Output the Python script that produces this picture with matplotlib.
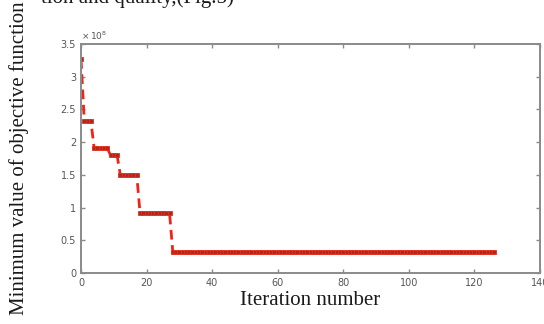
import matplotlib
matplotlib.use("Agg")
import matplotlib.pyplot as plt
from matplotlib.ticker import FuncFormatter

# step levels of the best objective value and the iteration where each starts
level_values = [3.27e8, 2.33e8, 1.91e8, 1.80e8, 1.50e8, 0.92e8, 0.32e8]
level_starts = [0, 1, 4, 9, 12, 18, 28]
last_iteration = 126

x_ticks = [0, 20, 40, 60, 80, 100, 120, 140]
y_ticks = [0, 0.5e8, 1e8, 1.5e8, 2e8, 2.5e8, 3e8, 3.5e8]

# expand the levels to one value per iteration
iters = list(range(0, last_iteration + 1))
best = []
for it in iters:
    k = max(i for i, s in enumerate(level_starts) if s <= it)
    best.append(level_values[k])

fig = plt.figure(figsize=(5.44, 3.24), dpi=100)
ax = fig.add_axes([81 / 544, 1 - 273 / 324, 459 / 544, 229 / 324])

ax.plot(iters, best, color="#ee2418", linestyle="--", dashes=(3.5, 2), linewidth=2.0,
        marker="s", markersize=3.2, markerfacecolor="#b3261c", markeredgecolor="#e3301f",
        markeredgewidth=0.6)

ax.set_xlim(0, 140)
ax.set_ylim(0, 3.5e8)
ax.set_xticks(x_ticks)
ax.set_yticks(y_ticks)
ax.yaxis.set_major_formatter(FuncFormatter(lambda v, p: "%g" % (v / 1e8)))

for s in ax.spines.values():
    s.set_color("#8a8a8a")
    s.set_linewidth(1.4)
ax.tick_params(direction="in", length=3, width=1, colors="#8a8a8a", labelcolor="#555555",
               labelsize=7, top=True, right=True)

ax.text(0.0, 1.01, r"$\times\,10^{8}$", transform=ax.transAxes, fontsize=6.5,
        color="#555555", ha="left", va="bottom")

ax.set_xlabel("Iteration number", fontsize=15, family="Liberation Serif",
              color="#1a1a1a", labelpad=2)
fig.text(0.035, 0.513, "Minimum value of objective function", rotation=90,
         fontsize=15, family="Liberation Serif", color="#1a1a1a",
         ha="center", va="center")

# clipped caption line from the page above the figure
fig.text(0.076, 1 - 3 / 324, "tion and quality,(Fig.5)", fontsize=15,
         family="Liberation Serif", color="#1a1a1a", ha="left", va="baseline")

fig.savefig("out.png", dpi=100)
